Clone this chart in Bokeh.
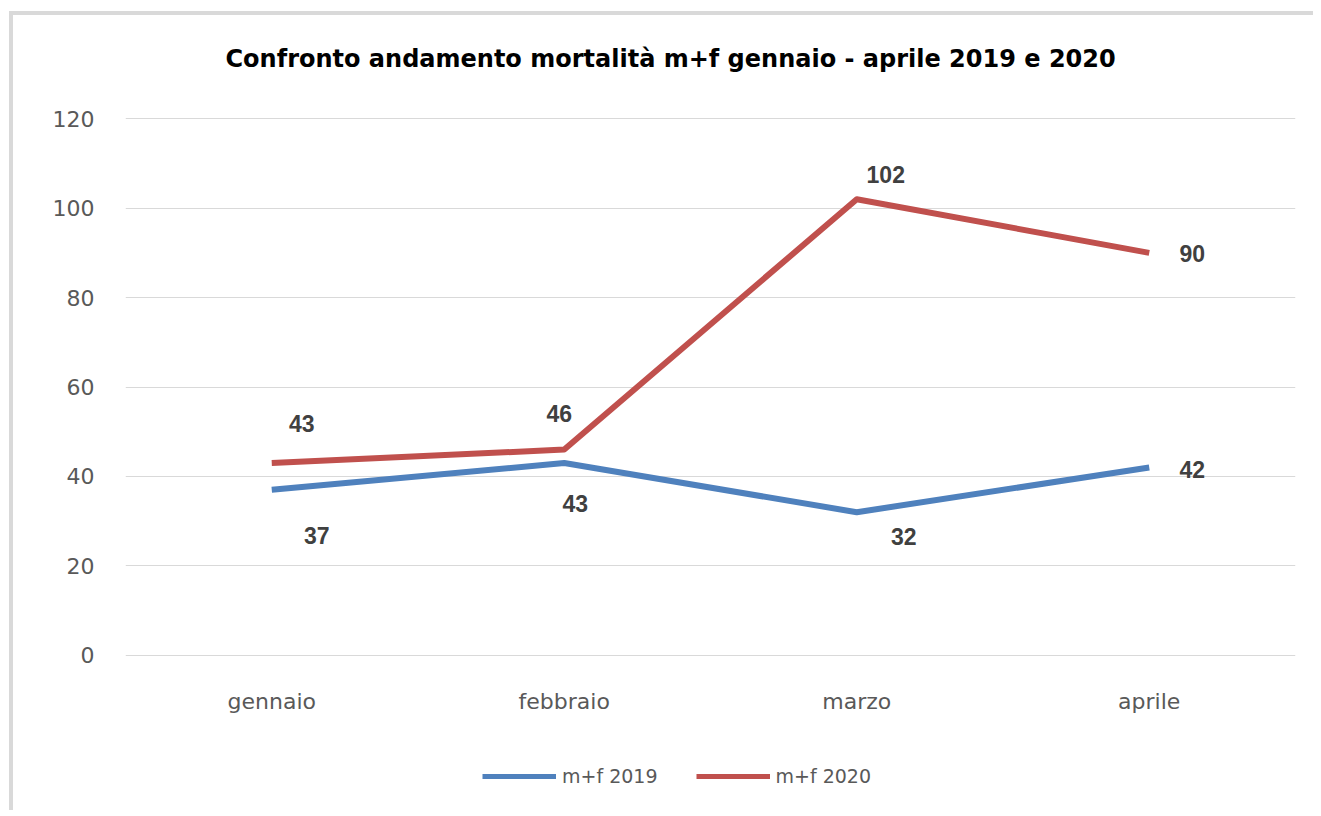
from bokeh.plotting import figure
from bokeh.layouts import column
from bokeh.models import ColumnDataSource, Range1d, FactorRange, Legend, LegendItem, Title
from bokeh.core.properties import value
from bokeh.embed import file_html
from bokeh.resources import INLINE

# ---- data ----
months = ["gennaio", "febbraio", "marzo", "aprile"]
deaths_2019 = [37, 43, 32, 42]
deaths_2020 = [43, 46, 102, 90]
series_names = ["m+f 2019", "m+f 2020"]
title_text = "Confronto andamento mortalità m+f gennaio - aprile 2019 e 2020"
y_ticks = [0, 20, 40, 60, 80, 100, 120]

# ---- label placement (screen pixels, layout only) ----
dx_2019 = [45, 11, 47, 43]
dy_2019 = [46, 40, 24, 2]
dx_2020 = [30, -5, 29, 43]
dy_2020 = [-40, -36, -25, 1]

BLUE = "#4F81BD"
RED = "#C0504D"

p = figure(
    width=1300, height=702,
    x_range=FactorRange(*months),
    y_range=Range1d(-0.5, 120.5),
    output_backend="svg", toolbar_location=None,
    min_border_left=112, min_border_right=18,
    min_border_top=101, min_border_bottom=60,
)
p.outline_line_color = None
p.background_fill_color = "white"
p.border_fill_color = "white"

# spacer nearest the frame, then the real title above it
p.add_layout(Title(text=" ", text_font_size="1px", standoff=41), "above")
p.add_layout(Title(text=title_text, align="left", offset=100, standoff=0,
                   text_font="DejaVu Sans", text_font_style="bold",
                   text_font_size="24px", text_color="#000000"), "above")

s19 = ColumnDataSource(dict(x=months, y=deaths_2019, t=[str(v) for v in deaths_2019],
                            dx=dx_2019, dy=dy_2019))
s20 = ColumnDataSource(dict(x=months, y=deaths_2020, t=[str(v) for v in deaths_2020],
                            dx=dx_2020, dy=dy_2020))

p.line("x", "y", source=s19, line_color=BLUE, line_width=6, line_join="round")
p.line("x", "y", source=s20, line_color=RED, line_width=6, line_join="round")

for s in (s19, s20):
    p.text("x", "y", text="t", source=s, x_offset="dx", y_offset="dy",
           text_align="center", text_baseline="middle",
           text_font=value("Liberation Sans"), text_font_style="bold",
           text_font_size="23px", text_color="#404040")

# axes
p.yaxis.ticker = y_ticks
for ax in (p.xaxis[0], p.yaxis[0]):
    ax.axis_line_color = None
    ax.major_tick_line_color = None
    ax.minor_tick_line_color = None
    ax.major_label_text_font = "DejaVu Sans"
    ax.major_label_text_font_size = "22px"
    ax.major_label_text_color = "#595959"
p.yaxis.major_label_standoff = 25
p.xaxis.major_label_standoff = 25

p.xgrid.grid_line_color = None
p.ygrid.grid_line_color = "#d9d9d9"
p.ygrid.grid_line_width = 1

# ---- legend strip below the chart (series drawn off-range, only the key shows) ----
leg = figure(width=1300, height=93, x_range=FactorRange(*months), y_range=Range1d(1000, 1001),
             output_backend="svg", toolbar_location=None,
             x_axis_location=None, y_axis_location=None, min_border=0)
leg.grid.visible = False
leg.outline_line_color = None
leg.border_fill_color = "white"
l19 = leg.line("x", "y", source=s19, line_color=BLUE, line_width=5)
l20 = leg.line("x", "y", source=s20, line_color=RED, line_width=5)
legend = Legend(
    items=[LegendItem(label=series_names[0], renderers=[l19]),
           LegendItem(label=series_names[1], renderers=[l20])],
    location=(357, 23), orientation="horizontal",
    glyph_width=74, glyph_height=20, label_height=20, label_standoff=6,
    spacing=38, padding=0, margin=0,
    border_line_color=None, background_fill_alpha=0,
    label_text_font="DejaVu Sans", label_text_font_size="19px",
    label_text_color="#595959",
)
leg.add_layout(legend, "center")

root = column(p, leg, spacing=0,
              styles={"border-left": "4px solid #d9d9d9", "border-top": "4px solid #d9d9d9",
                      "margin-left": "9px", "margin-top": "11px"})

open("out.html", "w").write(file_html(root, INLINE))
